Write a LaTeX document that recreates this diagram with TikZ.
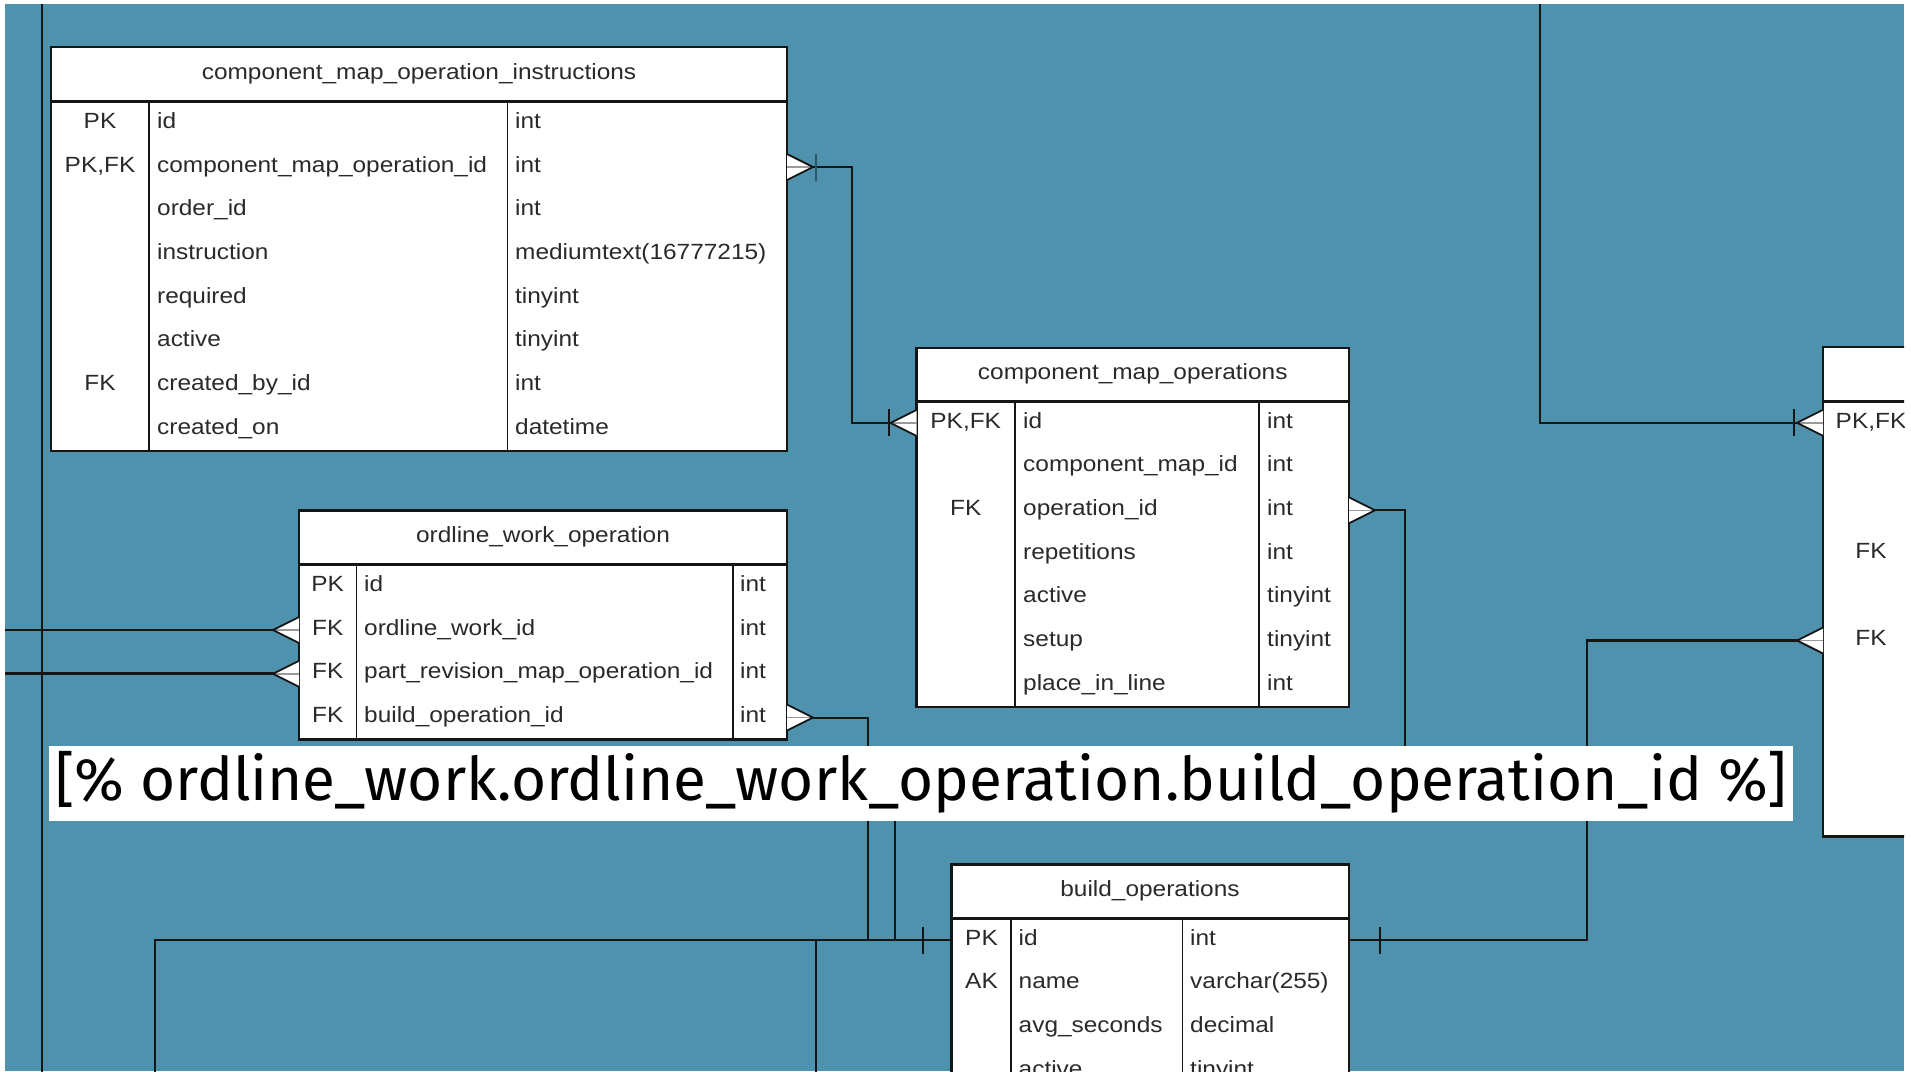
\documentclass[tikz,border=0pt]{standalone}
\usepackage{graphicx}
\usepackage{fontspec}
\setmainfont{Liberation Sans}[FakeStretch=1.11]
\newfontfamily\lblfont{Fira Sans}
\definecolor{bgblue}{HTML}{4F92AE}
\definecolor{ink}{HTML}{151515}
\definecolor{txt}{HTML}{2A2A2A}
\definecolor{midgray}{HTML}{9A9A9A}
\definecolor{barblue}{HTML}{2E5568}
\tikzset{
 tbl/.style={draw=ink, line width=2.6pt, fill=white, rectangle, inner sep=0pt, outer sep=0pt, anchor=north west},
 hsep/.style={draw=ink, line width=3pt},
 cdiv/.style={draw=ink, line width=1.8pt},
 conn/.style={draw=ink, line width=2.2pt},
 ttl/.style={anchor=base, inner sep=0pt, text=txt, font=\fontsize{22}{24}\selectfont},
 keyt/.style={anchor=base, inner sep=0pt, text=txt, font=\fontsize{22}{24}\selectfont},
 fldt/.style={anchor=base west, inner sep=0pt, text=txt, font=\fontsize{22}{24}\selectfont},
 prong/.style={draw=ink, line width=1.8pt, line join=miter},
 midp/.style={draw=midgray, line width=1.6pt},
 barline/.style={draw=ink, line width=2pt},
}
\newcommand{\crowfoot}[3]{%
  \fill[white] (#1,#2-13) -- ({#1+#3*26},#2) -- (#1,#2+13) -- cycle;
  \draw[midp] (#1,#2) -- ({#1+#3*26},#2);
  \draw[prong] (#1,#2-13) -- ({#1+#3*26},#2) -- (#1,#2+13);}
\newcommand{\barmark}[3][barline]{\draw[#1] (#2,#3-13.5) -- (#2,#3+13.5);}
\newcommand{\frow}[9]{%
  \node[keyt] (#1k#2) at (#3,#6) {#7};
  \node[fldt] (#1n#2) at (#4,#6) {#8};
  \node[fldt] (#1y#2) at (#5,#6) {#9};}
\newcommand{\frowb}[7]{%
  \node[fldt] (#1n#2) at (#3,#5) {#6};
  \node[fldt] (#1y#2) at (#4,#5) {#7};}
\begin{document}
\begin{tikzpicture}[x=1pt,y=-1pt]
\useasboundingbox (0,0) rectangle (1911,1071);
\fill[white] (0,0) rectangle (1911,1071);
\fill[bgblue] (5,4) rectangle (1904,1071);
\begin{scope}
\clip (5,4) rectangle (1904,1071);
% left long line
\coordinate (k0) at (42,0);
\coordinate (k1) at (42,1080);
\draw[conn, line width=2.6pt] (k0) -- (k1);
% connector end points
\coordinate (a1) at (787,167);
\coordinate (a2) at (916.5,422.9);
\coordinate (b0) at (1540,0);
\coordinate (b1) at (1823,422.8);
\coordinate (c1) at (1349,510.3);
\coordinate (cj) at (895,940);
\coordinate (d1) at (787,717.6);
\coordinate (e1) at (951.5,940);
\coordinate (f0) at (155,1080);
\coordinate (g0) at (816,1080);
\coordinate (g1) at (816,940);
\coordinate (h1) at (1349,940);
\coordinate (h2) at (1823,640.5);
\coordinate (i0) at (0,630);
\coordinate (i1) at (299,630);
\coordinate (j0) at (0,673.8);
\coordinate (j1) at (299,673.8);
% connectors
\draw[conn] (a1) -- ++(65,0) |- (a2);
\draw[conn] (b0) |- (b1);
\draw[conn] (c1) -- ++(56,0) -- ++(0,280) -| (cj) -- (e1);
\draw[conn] (d1) -- ++(81.3,0) |- (e1);
\draw[conn] (f0) |- (e1);
\draw[conn] (g0) -- (g1);
\draw[conn] (h1) -- ++(238,0) |- (h2);
\draw[conn] (i0) -- (i1);
\draw[conn, line width=3pt] (j0) -- (j1);
% ---- table 1
\node[tbl, minimum width=736pt, minimum height=404pt] (t1) at (51,47) {};
\draw[hsep] (51,101.5) -- (787,101.5);
\draw[cdiv] (149,101.5) -- (149,451);
\draw[cdiv] (507.5,101.5) -- (507.5,451);
\node[ttl] (t1title) at (419,79.3) {component\_map\_operation\_instructions};
\frow{a}{1}{100}{157}{515}{128.5}{PK}{id}{int}
\frow{a}{2}{100}{157}{515}{172.2}{PK,FK}{component\_map\_operation\_id}{int}
\frowb{a}{3}{157}{515}{215.9}{order\_id}{int}
\frowb{a}{4}{157}{515}{259.6}{instruction}{mediumtext(16777215)}
\frowb{a}{5}{157}{515}{303.3}{required}{tinyint}
\frowb{a}{6}{157}{515}{346.9}{active}{tinyint}
\frow{a}{7}{100}{157}{515}{390.6}{FK}{created\_by\_id}{int}
\frowb{a}{8}{157}{515}{434.3}{created\_on}{datetime}
% ---- table 2
\node[tbl, minimum width=432.5pt, minimum height=359pt] (t2) at (916.5,348) {};
\draw[hsep] (916.5,401) -- (1349,401);
\draw[cdiv] (1015,401) -- (1015,707);
\draw[cdiv] (1259,401) -- (1259,707);
\node[ttl] (t2title) at (1132.75,379.5) {component\_map\_operations};
\frow{b}{1}{965.7}{1023}{1267}{428}{PK,FK}{id}{int}
\frowb{b}{2}{1023}{1267}{471.7}{component\_map\_id}{int}
\frow{b}{3}{965.7}{1023}{1267}{515.4}{FK}{operation\_id}{int}
\frowb{b}{4}{1023}{1267}{559.1}{repetitions}{int}
\frowb{b}{5}{1023}{1267}{602.8}{active}{tinyint}
\frowb{b}{6}{1023}{1267}{646.6}{setup}{tinyint}
\frowb{b}{7}{1023}{1267}{690.3}{place\_in\_line}{int}
% ---- table 3 (cut off at the right)
\node[tbl, minimum width=200pt, minimum height=489.5pt] (t3) at (1823,347) {};
\draw[hsep] (1823,401) -- (2023,401);
\node[keyt] (ck1) at (1871,428) {PK,FK};
\node[keyt] (ck4) at (1871,558.7) {FK};
\node[keyt] (ck6) at (1871,645.8) {FK};
% ---- table 4
\node[tbl, minimum width=488pt, minimum height=229pt] (t4) at (299,510.5) {};
\draw[hsep] (299,564.3) -- (787,564.3);
\draw[cdiv] (356.4,564.3) -- (356.4,739.5);
\draw[cdiv] (733.3,564.3) -- (733.3,739.5);
\node[ttl] (t4title) at (543,542.4) {ordline\_work\_operation};
\frow{d}{1}{327.7}{364}{740}{591.3}{PK}{id}{int}
\frow{d}{2}{327.7}{364}{740}{635.1}{FK}{ordline\_work\_id}{int}
\frow{d}{3}{327.7}{364}{740}{678.9}{FK}{part\_revision\_map\_operation\_id}{int}
\frow{d}{4}{327.7}{364}{740}{722.7}{FK}{build\_operation\_id}{int}
% ---- table 5 build_operations
\node[tbl, minimum width=397.5pt, minimum height=260pt] (t5) at (951.5,864.5) {};
\draw[hsep] (951.5,918.3) -- (1349,918.3);
\draw[cdiv] (1011,918.3) -- (1011,1124.5);
\draw[cdiv] (1182.5,918.3) -- (1182.5,1124.5);
\node[ttl] (t5title) at (1150,896.4) {build\_operations};
\frow{e}{1}{981.5}{1018.5}{1190}{945.3}{PK}{id}{int}
\frow{e}{2}{981.5}{1018.5}{1190}{988.9}{AK}{name}{varchar(255)}
\frowb{e}{3}{1018.5}{1190}{1032.5}{avg\_seconds}{decimal}
\frowb{e}{4}{1018.5}{1190}{1076.1}{active}{tinyint}
% ---- crow's feet and bars
\crowfoot{787}{167}{1}
\barmark[barline, draw=barblue, line width=1.6pt]{816}{167}
\crowfoot{916.5}{422.9}{-1}
\barmark{889}{422.9}
\crowfoot{1823}{422.8}{-1}
\barmark{1794}{422.8}
\crowfoot{1349}{510.3}{1}
\crowfoot{787}{717.6}{1}
\crowfoot{299}{630}{-1}
\crowfoot{299}{673.8}{-1}
\crowfoot{1823}{640.5}{-1}
\barmark{922.5}{940}
\barmark{1380}{940}
% ---- label box
\node[fill=white, draw=none, inner sep=0pt, minimum width=1744pt, minimum height=75pt, anchor=north west] (lblbox) at (49,746) {};
\node[anchor=base west, inner sep=0pt] (lbltext) at (55,800.5) {\resizebox{1732pt}{!}{\lblfont\fontsize{55}{60}\selectfont [\% ordline\_work.ordline\_work\_operation.build\_operation\_id \%]}};
\end{scope}
\end{tikzpicture}
\end{document}
